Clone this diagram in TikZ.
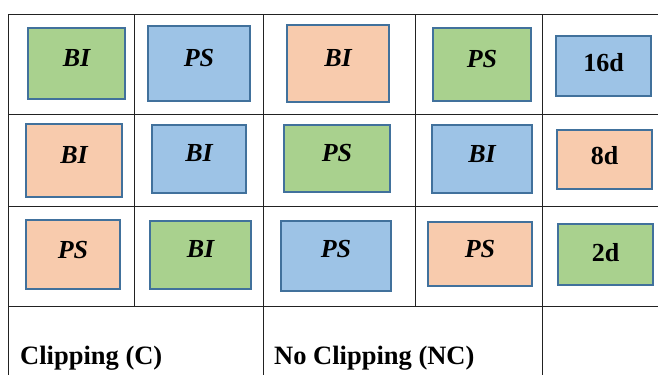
\documentclass[tikz,border=0pt]{standalone}
\usepackage{fontspec}
\setmainfont{Liberation Serif}
\definecolor{gfill}{HTML}{A9D18E}
\definecolor{bfill}{HTML}{9DC3E6}
\definecolor{ofill}{HTML}{F8CBAD}
\definecolor{bord}{HTML}{41719C}
\definecolor{grid}{HTML}{222222}
\tikzset{
  cellbox/.style={draw=bord, line width=2pt, inner sep=0pt},
  boxtxt/.style={font=\fontsize{26}{28}\selectfont\bfseries\itshape, inner sep=0pt, yshift=-1.5pt},
  daytxt/.style={font=\fontsize{26}{28}\selectfont\bfseries, inner sep=0pt, yshift=-1pt},
  foot/.style={font=\fontsize{26.5}{28}\selectfont\bfseries, inner sep=0pt, anchor=base west},
  gridline/.style={draw=grid, line width=1pt}
}
\newcommand{\cbox}[6]{% name, x1,y1,x2,y2, fill
  \path[cellbox, fill=#6] (#2,#3) rectangle (#4,#5);
  \coordinate (#1) at ({(#2+#4)/2},{(#3+#5)/2});
}
\begin{document}
\begin{tikzpicture}[x=1pt,y=-1pt]
\useasboundingbox (0,0) rectangle (658,375);
% grid
\coordinate (h1a) at (8,14);  \coordinate (h1b) at (658,14);
\coordinate (h2a) at (8,114); \coordinate (h2b) at (658,114);
\coordinate (h3a) at (8,206); \coordinate (h3b) at (658,206);
\coordinate (h4a) at (8,306); \coordinate (h4b) at (658,306);
\draw[gridline] (h1a) -- (h1b);
\draw[gridline] (h2a) -- (h2b);
\draw[gridline] (h3a) -- (h3b);
\draw[gridline] (h4a) -- (h4b);
\coordinate (v1a) at (8,14);   \coordinate (v1b) at (8,375);
\coordinate (v2a) at (134,14); \coordinate (v2b) at (134,306);
\coordinate (v3a) at (263,14); \coordinate (v3b) at (263,375);
\coordinate (v4a) at (415,14); \coordinate (v4b) at (415,306);
\coordinate (v5a) at (542,14); \coordinate (v5b) at (542,375);
\draw[gridline] (v1a) -- (v1b);
\draw[gridline] (v2a) -- (v2b);
\draw[gridline] (v3a) -- (v3b);
\draw[gridline] (v4a) -- (v4b);
\draw[gridline] (v5a) -- (v5b);
% row 1
\cbox{b11}{28}{28}{125}{99}{gfill}
\cbox{b12}{148}{26}{250}{101}{bfill}
\cbox{b13}{287}{25}{389}{102}{ofill}
\cbox{b14}{433}{28}{531}{101}{gfill}
\cbox{b15}{556}{36}{651}{96}{bfill}
\node[boxtxt] (t11) at (76.5,56.5) {BI};
\node[boxtxt] (t12) at (199,56.5) {PS};
\node[boxtxt] (t13) at (338,56.5) {BI};
\node[boxtxt] (t14) at (482,58) {PS};
\node[daytxt] (t15) at (603.5,61.5) {16d};
% row 2
\cbox{b21}{26}{124}{122}{197}{ofill}
\cbox{b22}{152}{125}{246}{193}{bfill}
\cbox{b23}{284}{125}{390}{192}{gfill}
\cbox{b24}{432}{125}{532}{193}{bfill}
\cbox{b25}{557}{130}{652}{189}{ofill}
\node[boxtxt] (t21) at (74,154) {BI};
\node[boxtxt] (t22) at (199,152) {BI};
\node[boxtxt] (t23) at (337,152) {PS};
\node[boxtxt] (t24) at (482,153) {BI};
\node[daytxt] (t25) at (604.5,155) {8d};
% row 3
\cbox{b31}{26}{220}{120}{289}{ofill}
\cbox{b32}{150}{221}{251}{289}{gfill}
\cbox{b33}{281}{221}{391}{291}{bfill}
\cbox{b34}{428}{222}{532}{286}{ofill}
\cbox{b35}{558}{224}{653}{285}{gfill}
\node[boxtxt] (t31) at (73,248.5) {PS};
\node[boxtxt] (t32) at (200.5,248) {BI};
\node[boxtxt] (t33) at (336,248) {PS};
\node[boxtxt] (t34) at (480,248) {PS};
\node[daytxt] (t35) at (605.5,251.5) {2d};
% footer
\node[foot] (fc) at (20,364) {Clipping (C)};
\node[foot] (fnc) at (274,364) {No Clipping (NC)};
\end{tikzpicture}
\end{document}
